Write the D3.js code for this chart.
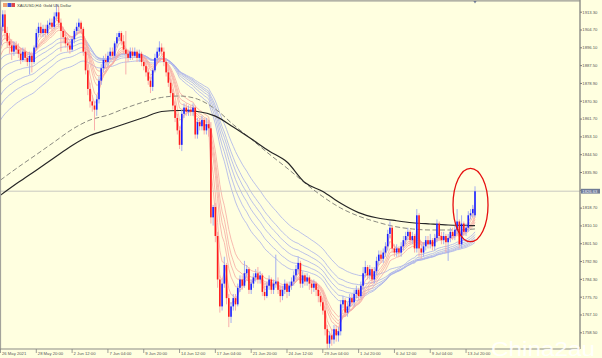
<!DOCTYPE html>
<html><head><meta charset="utf-8">
<script src="https://cdn.jsdelivr.net/npm/d3@7"></script>
<style>html,body{margin:0;padding:0;background:#ffffe0;overflow:hidden}</style>
</head><body>
<svg id="c" width="602" height="358"></svg>
<script>
// ---------- data ----------
const opens = [1897,1906,1912,1903,1899,1897,1894,1897,1895,1893,1890,1894,1891,1889,1892,1889,1896,1903,1906,1903,
1905,1903,1907,1908,1906,1911,1913,1908,1904,1901,1898,1897,1895,1900,1904,1906,1908,1905,1894,1885,
1876,1870,1868,1866,1871,1880,1886,1890,1889,1892,1894,1892,1898,1901,1903,1899,1895,1893,1891,1894,
1892,1894,1891,1893,1889,1887,1884,1880,1877,1885,1891,1894,1896,1894,1889,1884,1879,1874,1868,1862,
1856,1849,1864,1867,1865,1866,1865,1867,1854,1860,1858,1861,1856,1859,1857,1814,1819,1805,1784,1771,
1782,1791,1775,1766,1771,1775,1772,1780,1784,1781,1787,1789,1779,1782,1785,1787,1784,1786,1778,1776,
1781,1784,1779,1782,1783,1779,1776,1779,1782,1778,1781,1783,1786,1789,1792,1782,1786,1783,1785,1782,
1780,1782,1779,1776,1773,1769,1760,1753,1757,1755,1760,1757,1759,1772,1774,1768,1771,1775,1773,1777,
1779,1776,1781,1787,1790,1786,1789,1784,1788,1793,1796,1794,1797,1800,1806,1809,1799,1797,1799,1797,
1800,1803,1805,1807,1803,1805,1799,1815,1799,1797,1800,1803,1801,1803,1800,1804,1811,1805,1803,1805,
1802,1804,1807,1805,1808,1812,1801,1811,1807,1809,1815,1816,1815];
const highs = [1908,1914,1914,1906,1903,1900,1899,1899,1898,1896,1896,1896,1893,1894,1894,1897,1905,1908,1908,1907,
1907,1909,1910,1910,1913,1917,1916,1910,1906,1904,1901,1899,1901,1905,1908,1910,1909,1906,1896,1888,
1879,1873,1870,1873,1882,1888,1892,1893,1894,1896,1896,1899,1903,1904,1904,1902,1904,1895,1896,1896,
1896,1895,1895,1894,1891,1889,1886,1882,1886,1893,1896,1899,1898,1896,1891,1886,1881,1876,1870,1864,
1858,1866,1869,1869,1868,1868,1869,1868,1862,1862,1863,1862,1862,1861,1860,1820,1821,1807,1786,1784,
1795,1792,1777,1773,1777,1777,1782,1786,1786,1793,1791,1790,1784,1787,1789,1790,1788,1787,1781,1783,
1786,1785,1784,1796,1785,1781,1781,1784,1783,1783,1785,1788,1791,1795,1793,1788,1787,1787,1786,1784,
1784,1783,1781,1778,1775,1771,1762,1759,1760,1762,1762,1761,1774,1776,1775,1773,1777,1777,1779,1781,
1780,1783,1790,1793,1791,1791,1790,1790,1795,1798,1798,1799,1802,1808,1812,1810,1801,1801,1800,1802,
1805,1807,1809,1808,1807,1806,1818,1816,1801,1802,1805,1805,1806,1804,1806,1813,1812,1807,1807,1806,
1806,1809,1809,1810,1818,1813,1815,1812,1811,1817,1818,1820,1829];
const lows = [1895,1904,1900,1896,1893,1890,1892,1893,1891,1888,1889,1889,1887,1883,1884,1888,1895,1901,1901,1901,
1901,1902,1905,1904,1905,1909,1906,1894,1898,1896,1894,1893,1894,1898,1902,1904,1903,1892,1883,1873,
1867,1865,1856,1863,1869,1878,1884,1886,1887,1890,1890,1891,1896,1899,1897,1893,1883,1889,1890,1890,
1891,1889,1889,1887,1885,1882,1878,1874,1875,1884,1889,1892,1892,1887,1882,1877,1872,1866,1860,1854,
1847,1846,1862,1863,1863,1863,1863,1852,1852,1856,1856,1854,1854,1853,1811,1810,1802,1780,1768,1769,
1780,1772,1761,1763,1769,1769,1771,1778,1779,1780,1785,1777,1777,1780,1783,1782,1782,1776,1774,1775,
1779,1777,1777,1780,1777,1773,1774,1777,1775,1776,1779,1781,1784,1787,1780,1780,1781,1781,1779,1777,
1778,1776,1773,1771,1767,1757,1750,1751,1752,1753,1754,1754,1757,1770,1766,1766,1769,1771,1771,1775,
1774,1775,1779,1785,1784,1784,1782,1782,1786,1791,1792,1792,1795,1798,1804,1797,1795,1795,1795,1795,
1798,1801,1803,1801,1801,1797,1797,1795,1794,1795,1798,1799,1799,1798,1798,1802,1803,1801,1801,1797,
1793,1802,1803,1803,1806,1799,1799,1805,1805,1807,1813,1814,1814];
const closes = [1906,1912,1903,1899,1897,1894,1897,1895,1893,1890,1894,1891,1889,1892,1889,1896,1903,1906,1903,1905,
1903,1907,1908,1906,1911,1913,1908,1904,1901,1898,1897,1895,1900,1904,1906,1908,1905,1894,1885,1876,
1870,1868,1866,1871,1880,1886,1890,1889,1892,1894,1892,1898,1901,1903,1899,1895,1893,1891,1894,1892,
1894,1891,1893,1889,1887,1884,1880,1877,1885,1891,1894,1896,1894,1889,1884,1879,1874,1868,1862,1856,
1849,1864,1867,1865,1866,1865,1867,1854,1860,1858,1861,1856,1859,1857,1814,1819,1805,1784,1771,1782,
1791,1775,1766,1771,1775,1772,1780,1784,1781,1787,1789,1779,1782,1785,1787,1784,1786,1778,1776,1781,
1784,1779,1782,1783,1779,1776,1779,1782,1778,1781,1783,1786,1789,1792,1782,1786,1783,1785,1782,1780,
1782,1779,1776,1773,1769,1760,1753,1757,1755,1760,1757,1759,1772,1774,1768,1771,1775,1773,1777,1779,
1776,1781,1787,1790,1786,1789,1784,1788,1793,1796,1794,1797,1800,1806,1809,1799,1797,1799,1797,1800,
1803,1805,1807,1803,1805,1799,1815,1799,1797,1800,1803,1801,1803,1800,1804,1811,1805,1803,1805,1802,
1804,1807,1805,1808,1812,1801,1811,1807,1809,1815,1816,1818,1826.6];

// moving averages (bar index -> value)
const maIdx = [0,8,16,24,32,40,48,56,64,72,80,88,96,104,112,120,128,136,144,152,160,168,176,184,192,200,208,212];
const maSlowVals = [1824.7,1830.9,1836.8,1842.8,1848.7,1853.5,1856.4,1859.3,1862.2,1865.1,1865.6,1865.1,1862.9,1857.6,
1851.9,1846.0,1840.7,1830.8,1826.5,1820.8,1816.3,1813.8,1812.5,1811.4,1810.8,1810.3,1810.1,1810.0];
const maMidVals = [1832.0,1838.3,1844.3,1850.4,1856.5,1861.0,1863.4,1866.8,1869.7,1871.9,1872.6,1871.1,1866.3,1858.8,
1851.8,1844.6,1837.8,1830.6,1824.0,1818.5,1814.6,1811.8,1809.6,1808.4,1807.9,1807.9,1808.1,1808.4];

// GMMA ribbons (EMA periods and the value each line shows at the first bar)
const shortPeriods = [3,5,8,10,12,15];
const shortSeeds = [1903,1901,1899,1897,1895,1892];
const longPeriods = [30,35,40,45,50,60];
const longSeeds = [1890,1885,1879,1873,1868,1861];

const priceTicks = [1913.3,1904.7,1896.1,1887.5,1878.9,1870.3,1861.7,1853.1,1844.5,1835.9,1827.3,1818.7,1810.1,1801.5,1792.9,1784.3,1775.7,1767.1,1758.5];
const timeTickIdx = [0,16,32,48,64,80,96,112,128,144,160,176,192,208];
const timeTickLabels = ["26 May 2021","28 May 20:00","2 Jun 12:00","7 Jun 04:00","9 Jun 20:00","14 Jun 12:00","17 Jun 04:00",
"21 Jun 20:00","24 Jun 12:00","29 Jun 04:00","1 Jul 20:00","6 Jul 12:00","9 Jul 04:00","13 Jul 20:00"];
const lastPrice = 1826.63;
const titleText = "XAUUSD,H4: Gold US Dollar";
const watermark = "China2au";

// ---------- drawing ----------
const svg = d3.select("#c");
const N = closes.length;
const x = d3.scaleLinear().domain([0, 212]).range([0.5, 475.0]);
const y = d3.scaleLinear().domain([1758.5, 1913.3]).range([332.3, 11.7]);
const axisX = 580, axisY = 349;

svg.append("rect").attr("width",602).attr("height",358).attr("fill","#ffffe0");

svg.append("clipPath").attr("id","pc").append("rect").attr("x",0).attr("y",1).attr("width",axisX).attr("height",axisY-1);
const plot = svg.append("g").attr("clip-path","url(#pc)");

function ema(period, seed){
  const a = 2/(period+1); const out=[]; let e=seed;
  for(let i=0;i<N;i++){ if(i>0) e = e + a*(closes[i]-e); out.push(e); }
  return out;
}
const line = d3.line().x((d,i)=>x(i)).y(d=>y(d));
longPeriods.forEach((p,k)=>{
  plot.append("path").datum(ema(p,longSeeds[k])).attr("d",line).attr("fill","none")
    .attr("stroke","#a9b1ea").attr("stroke-width",0.8);
});
shortPeriods.forEach((p,k)=>{
  plot.append("path").datum(ema(p,shortSeeds[k])).attr("d",line).attr("fill","none")
    .attr("stroke","#f6aaa2").attr("stroke-width",0.8);
});

plot.append("line").attr("x1",0).attr("x2",axisX).attr("y1",y(lastPrice)).attr("y2",y(lastPrice))
  .attr("stroke","#c9c9c0").attr("stroke-width",1);

const maLine = d3.line().x(d=>x(d[0])).y(d=>y(d[1])).curve(d3.curveMonotoneX);
plot.append("path").datum(maIdx.map((d,i)=>[d,maMidVals[i]])).attr("d",maLine).attr("fill","none")
  .attr("stroke","#8a8a80").attr("stroke-width",1).attr("stroke-dasharray","5,2.5");
plot.append("path").datum(maIdx.map((d,i)=>[d,maSlowVals[i]])).attr("d",maLine).attr("fill","none")
  .attr("stroke","#262626").attr("stroke-width",1.2);

const bw = 1.6;
const g = plot.append("g");
for(let i=0;i<N;i++){
  const up = closes[i] >= opens[i];
  g.append("line").attr("x1",x(i)).attr("x2",x(i)).attr("y1",y(highs[i])).attr("y2",y(lows[i]))
    .attr("stroke", up ? "#9aa6f2" : "#f7a6a6").attr("stroke-width",0.9);
  const t = y(Math.max(opens[i],closes[i])), b = y(Math.min(opens[i],closes[i]));
  g.append("rect").attr("x",x(i)-bw/2).attr("y",t).attr("width",bw).attr("height",Math.max(0.8,b-t))
    .attr("fill", up ? "#1c22ff" : "#ff1c1c");
}

svg.append("line").attr("x1",0).attr("x2",axisX).attr("y1",0.8).attr("y2",0.8).attr("stroke","#9a9a94").attr("stroke-width",1.2);
svg.append("line").attr("x1",0.6).attr("x2",0.6).attr("y1",0).attr("y2",axisY).attr("stroke","#9a9a94").attr("stroke-width",1);
svg.append("line").attr("x1",axisX).attr("x2",axisX).attr("y1",0).attr("y2",axisY).attr("stroke","#8c8c86").attr("stroke-width",1.4);
svg.append("line").attr("x1",0).attr("x2",axisX).attr("y1",axisY).attr("y2",axisY).attr("stroke","#8c8c86").attr("stroke-width",1.2);

const yAxis = d3.axisRight(y).tickValues(priceTicks).tickSize(2).tickFormat(d3.format(".2f"));
const ya = svg.append("g").attr("transform",`translate(${axisX},0)`).call(yAxis);
ya.select(".domain").remove();
ya.selectAll("line").attr("stroke","#777");
ya.selectAll("text").attr("x",2.3).attr("fill","#555").style("font-family","Liberation Sans, Arial, sans-serif").style("font-size","4.2px");

const xa = svg.append("g");
timeTickIdx.forEach((d,k)=>{
  const xx = x(d);
  xa.append("line").attr("x1",xx).attr("x2",xx).attr("y1",axisY).attr("y2",axisY+4).attr("stroke","#777").attr("stroke-width",0.7);
  xa.append("text").attr("x",xx+1.5).attr("y",354.8).text(timeTickLabels[k]).attr("fill","#555")
    .style("font-family","Liberation Sans, Arial, sans-serif").style("font-size","4.2px");
});

svg.append("rect").attr("x",axisX+1).attr("y",y(lastPrice)-2.4).attr("width",19).attr("height",4.8).attr("fill","#6f7b95");
svg.append("text").attr("x",axisX+2.3).attr("y",y(lastPrice)+1.5).text(d3.format(".2f")(lastPrice)).attr("fill","#eef")
  .style("font-family","Liberation Sans, Arial, sans-serif").style("font-size","4.2px");

svg.append("rect").attr("x",3).attr("y",3).attr("width",4).attr("height",4).attr("fill","#f0a070");
svg.append("rect").attr("x",7.5).attr("y",3).attr("width",4).attr("height",4).attr("fill","#3a52d8");
svg.append("rect").attr("x",11.5).attr("y",3).attr("width",3.5).attr("height",4).attr("fill","#e04848");
svg.append("text").attr("x",17).attr("y",6.8).text(titleText).attr("fill","#444")
  .style("font-family","Liberation Sans, Arial, sans-serif").style("font-size","4.2px");

svg.append("path").attr("d",`M${x(212)-1.6},1 L${x(212)+1.6},1 L${x(212)},3.4 Z`).attr("fill","#6f7b95");

svg.append("ellipse").attr("cx",x(210)).attr("cy",205).attr("rx",17.5).attr("ry",36.7)
  .attr("fill","none").attr("stroke","#e61010").attr("stroke-width",1.3);

svg.append("text").attr("x",491).attr("y",355.5).text(watermark).attr("fill","#ffffff").attr("fill-opacity",0.9)
  .attr("textLength",104).attr("lengthAdjust","spacingAndGlyphs")
  .style("font-family","Liberation Sans, Arial, sans-serif").style("font-size","21px");
</script>
</body></html>
